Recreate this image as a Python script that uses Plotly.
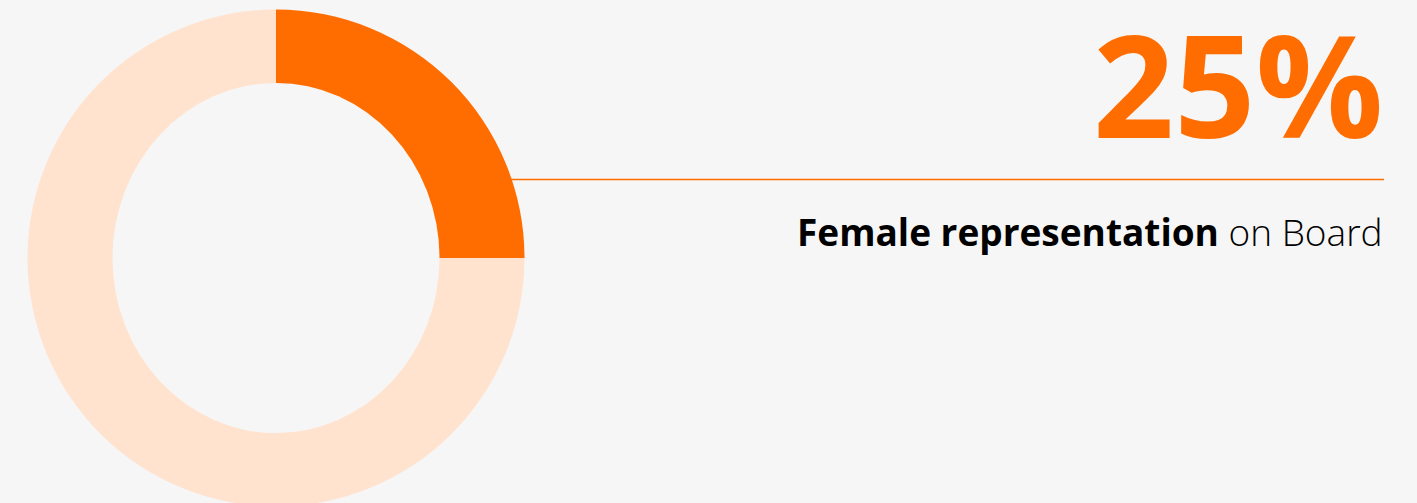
import plotly.graph_objects as go

# Data
labels = ["Female", "Male"]
values = [25, 75]
colors = ["#FF6D00", "#FFE3CF"]
big_label = "25%"
caption_bold = "Female representation"
caption_rest = "on Board"

W, H = 1417, 520
BG = "#F6F6F6"
ORANGE = "#FF6D00"

def px_y(y):
    return 1 - y / H

def px_x(x):
    return x / W

CX, CY, R = 276, 258, 248.5

fig = go.Figure(
    go.Pie(
        labels=labels,
        values=values,
        hole=0.64,
        sort=False,
        direction="clockwise",
        rotation=0,
        marker=dict(colors=colors, line=dict(width=0)),
        textinfo="none",
        hoverinfo="label+percent",
        domain=dict(x=[px_x(CX - R), px_x(CX + R)], y=[px_y(CY + R), px_y(CY - R)]),
        showlegend=False,
    )
)

# elliptical inner hole (the reference ring is slightly taller inside)
fig.add_shape(
    type="circle", xref="paper", yref="paper", layer="above",
    x0=px_x(CX - 163.5), x1=px_x(CX + 163.5),
    y0=px_y(CY + 175), y1=px_y(CY - 175),
    fillcolor=BG, line=dict(width=0),
)

fig.add_shape(
    type="line", xref="paper", yref="paper", layer="above",
    x0=px_x(511), x1=px_x(1384), y0=px_y(179.5), y1=px_y(179.5),
    line=dict(color=ORANGE, width=1.3),
)

fig.add_annotation(
    text=f"<b>{big_label}</b>", xref="paper", yref="paper",
    x=px_x(1385), y=px_y(83.5), xanchor="right", yanchor="middle",
    showarrow=False,
    font=dict(family="Open Sans", size=142, color=ORANGE),
)

fig.add_annotation(
    text=f"<b>{caption_bold}</b> {caption_rest}", xref="paper", yref="paper",
    x=px_x(1385), y=px_y(232), xanchor="right", yanchor="middle",
    showarrow=False,
    font=dict(family="Open Sans", size=37, color="#000000", weight=300),
)

fig.update_layout(
    width=W, height=H,
    margin=dict(l=0, r=0, t=0, b=0),
    paper_bgcolor=BG, plot_bgcolor=BG,
)

fig.write_html(
    "out.html",
    config={"displayModeBar": False},
    post_script="document.body.style.margin='0';document.body.style.overflow='hidden';document.body.style.background='#F6F6F6';",
)
